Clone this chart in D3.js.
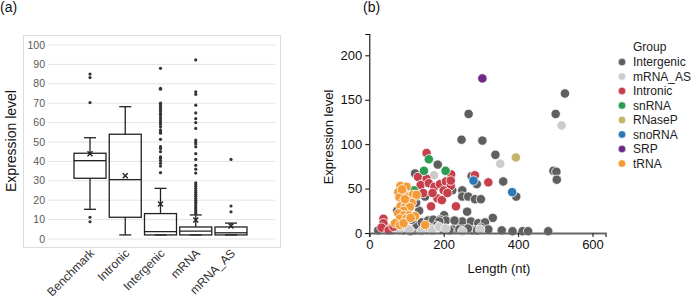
<!DOCTYPE html>
<html><head><meta charset="utf-8">
<script src="https://cdn.jsdelivr.net/npm/d3@7/dist/d3.min.js"></script>
<style>
body{margin:0;background:#fff;}
svg{display:block;font-family:"Liberation Sans",Arial,sans-serif;}
</style></head>
<body><svg id="c" width="693" height="301"></svg>
<script>
// ---------- Panel (a) data ----------
const categories = ["Benchmark","Intronic","Intergenic","mRNA","mRNA_AS"];
const whiskerLow  = [15.3, 2.1, 2.1, 2.1, 2.1];
const q1          = [31.3, 11.2, 2.1, 2.1, 2.1];
const median      = [40.4, 30.6, 3.8, 4.1, 3.2];
const q3          = [44.2, 54.0, 13.1, 6.2, 6.2];
const whiskerHigh = [52.2, 68.2, 26.1, 12.4, 8.2];
const means       = [44.0, 32.6, 18.0, 9.8, 6.7];
const outliers = [
  [85, 83.2, 70.3, 11.2, 8.9],
  [],
  [88, 77.7, 77.2, 70, 69, 67.9, 66.8, 66, 64.8, 63.7, 62.5, 61.3, 60.3, 59.3, 57.9, 56.2, 55.3, 54.5, 51.4, 47.6, 46.7, 45, 42.4, 41.6, 40.4, 39, 37.6, 34.2],
  [92.3, 75.9, 74.6, 69, 65, 62, 60, 57, 51, 50, 49, 47.5, 44, 41, 38, 36, 34, 29, 28, 27, 26, 25, 24, 23, 22, 21, 20, 19, 18, 17, 16, 15, 14, 13.2],
  [41, 17, 14]
];
const yTicksA = [0,10,20,30,40,50,60,70,80,90,100];

// ---------- Panel (b) data ----------
const groups = ["Intergenic","mRNA_AS","Intronic","snRNA","RNaseP","snoRNA","SRP","tRNA"];
const groupColors = ["#5f5f5f","#cccccc","#c6404c","#2b9c50","#c5b46c","#2a78b5","#6e2a8b","#f39b36"];
const intergenicPts = [[501,134],[526,157],[495,70],[503,69],[504,60],[267,134],[248,105],[304,104],[339,88],[360,58],[289,55],[275,64],[395,41],[184,77],[126,66],[223,48],[138,48],[150,41],[250,48],[250,41],[266,41],[284,38],[300,38],[263,24],[332,17],[201,20],[134,25],[126,34],[127,42],[123,67],[75,25],[174,14],[190,15],[206,14],[233,13],[250,13],[273,13],[293,11],[311,12],[197,4],[224,4],[242,4],[254,4],[277,3],[356,3],[385,2],[412,2],[427,2],[481,2],[24,3],[123,3],[141,4],[154,4],[127,9],[141,12],[158,14],[172,15],[188,13],[229,14],[114,15],[110,2],[90,3],[60,3],[45,5],[215,3],[265,5],[300,6],[180,8],[160,6],[290,3],[320,4],[170,3]];
const mrnaAsPts = [[517,121],[352,78],[174,65],[107,4],[169,4],[187,7],[298,4],[80,3],[140,2],[205,5],[250,2]];
const intronicPts = [[154,90],[220,66],[131,63],[154,61],[138,54],[160,56],[175,52],[190,55],[206,58],[219,53],[219,59],[102,52],[183,39],[195,37],[166,30],[233,30],[320,57],[284,65],[38,16],[38,11],[33,6],[56,5],[52,3],[65,7],[145,45],[170,45],[200,48],[210,45]];
const snRNAPts = [[160,83],[147,70],[205,70],[120,48]];
const rnasePPts = [[394,85]];
const snoRNAPts = [[280,59],[384,46]];
const srpPts = [[304,174]];
const tRNAPts = [[84,53],[100,52],[78,46],[92,45],[105,41],[117,43],[127,43],[81,40],[90,35],[105,36],[114,34],[84,30],[98,31],[109,29],[92,25],[78,22],[93,20],[107,20],[123,19],[82,16],[100,16],[69,11],[82,9],[150,9],[92,11],[111,17],[88,49],[96,38]];
const groupPoints = [intergenicPts, mrnaAsPts, intronicPts, snRNAPts, rnasePPts, snoRNAPts, srpPts, tRNAPts];
const xTicksB = [0,200,400,600];
const yTicksB = [0,50,100,150,200];

const svg = d3.select("#c");

// ================= Panel (a) =================
svg.append("text").attr("x",0).attr("y",12).attr("font-size",14).attr("fill","#111").text("(a)");
svg.append("rect").attr("x",23.5).attr("y",35.5).attr("width",257).attr("height",212)
  .attr("fill","none").attr("stroke","#dcdcdc").attr("stroke-width",1);

const yA = d3.scaleLinear().domain([0,100]).range([239,45]);
const xA = d3.scalePoint().domain(categories).range([90,231]);
const gA = svg.append("g");
gA.selectAll("line.grid").data(yTicksA).join("line").attr("class","grid")
  .attr("x1",48).attr("x2",275).attr("y1",d=>yA(d)).attr("y2",d=>yA(d))
  .attr("stroke","#e4e4e4").attr("stroke-width",1);
gA.selectAll("text.yt").data(yTicksA).join("text").attr("class","yt")
  .attr("x",45).attr("y",d=>yA(d)).attr("dy","0.35em").attr("text-anchor","end")
  .attr("font-size",10.5).attr("fill","#595959").text(d=>d);
svg.append("text").attr("transform","translate(16,141) rotate(-90)")
  .attr("text-anchor","middle").attr("font-size",14).attr("fill","#111").text("Expression level");

const bw = 32, cap = 12;
categories.forEach((c,i)=>{
  const cx = xA(c);
  const g = gA.append("g").attr("stroke","#222").attr("stroke-width",1.3).attr("fill","none");
  g.append("line").attr("x1",cx).attr("x2",cx).attr("y1",yA(q3[i])).attr("y2",yA(whiskerHigh[i]));
  g.append("line").attr("x1",cx).attr("x2",cx).attr("y1",yA(q1[i])).attr("y2",yA(whiskerLow[i]));
  g.append("line").attr("x1",cx-cap/2).attr("x2",cx+cap/2).attr("y1",yA(whiskerHigh[i])).attr("y2",yA(whiskerHigh[i]));
  g.append("line").attr("x1",cx-cap/2).attr("x2",cx+cap/2).attr("y1",yA(whiskerLow[i])).attr("y2",yA(whiskerLow[i]));
  g.append("rect").attr("x",cx-bw/2).attr("width",bw).attr("y",yA(q3[i])).attr("height",yA(q1[i])-yA(q3[i]));
  g.append("line").attr("x1",cx-bw/2).attr("x2",cx+bw/2).attr("y1",yA(median[i])).attr("y2",yA(median[i]));
  g.append("path").attr("d",d3.symbol(d3.symbolX,18)()).attr("transform",`translate(${cx},${yA(means[i])})`)
    .attr("stroke-width",1.4);
  gA.selectAll(null).data(outliers[i]).join("circle").attr("cx",cx).attr("cy",d=>yA(d)).attr("r",1.6).attr("fill","#333");
});
categories.forEach(c=>{
  svg.append("text").attr("transform",`translate(${xA(c)+5},254) rotate(-45)`)
    .attr("text-anchor","end").attr("font-size",12).attr("fill","#333").text(c);
});

// ================= Panel (b) =================
svg.append("text").attr("x",363).attr("y",12).attr("font-size",14).attr("fill","#111").text("(b)");
const xB = d3.scaleLinear().domain([0,635]).range([369.3,605.5]);
const yB = d3.scaleLinear().domain([0,224]).range([233,34]);
const gB = svg.append("g");

groupPoints.forEach((pts,gi)=>{
  gB.selectAll(null).data(pts).join("circle")
    .attr("cx",d=>xB(d[0])).attr("cy",d=>yB(d[1])).attr("r",4.7)
    .attr("fill",groupColors[gi]).attr("stroke","#fff").attr("stroke-width",0.8);
});

const axY = gB.append("g").attr("transform","translate(369.3,0)")
  .call(d3.axisLeft(yB).tickValues(yTicksB).tickSize(4).tickPadding(3));
axY.select(".domain").attr("stroke","#111").attr("stroke-width",1.1);
axY.selectAll("text").attr("font-size",13).attr("fill","#111").attr("font-family","Liberation Sans, Arial, sans-serif");
const axX = gB.append("g").attr("transform","translate(0,233)")
  .call(d3.axisBottom(xB).tickValues(xTicksB).tickSize(4).tickPadding(3));
axX.select(".domain").attr("stroke","#666").attr("stroke-width",1.8);
axX.selectAll("text").attr("font-size",13).attr("fill","#111").attr("font-family","Liberation Sans, Arial, sans-serif");
axX.selectAll(".tick line").attr("stroke","#111");
svg.append("text").attr("x",499).attr("y",273).attr("text-anchor","middle").attr("font-size",13).attr("fill","#111").text("Length (nt)");
svg.append("text").attr("transform","translate(333,137) rotate(-90)")
  .attr("text-anchor","middle").attr("font-size",13).attr("fill","#111").text("Expression level");

// Legend
const lg = svg.append("g");
lg.append("text").attr("x",633).attr("y",51).attr("font-size",12).attr("fill","#222").text("Group");
groups.forEach((gname,i)=>{
  const y = 62 + i*14.5;
  lg.append("circle").attr("cx",622).attr("cy",y).attr("r",3.8).attr("fill",groupColors[i]).attr("stroke","#fff").attr("stroke-width",0.6);
  lg.append("text").attr("x",633).attr("y",y).attr("dy","0.36em").attr("font-size",12).attr("fill","#222").text(gname);
});
</script></body></html>
